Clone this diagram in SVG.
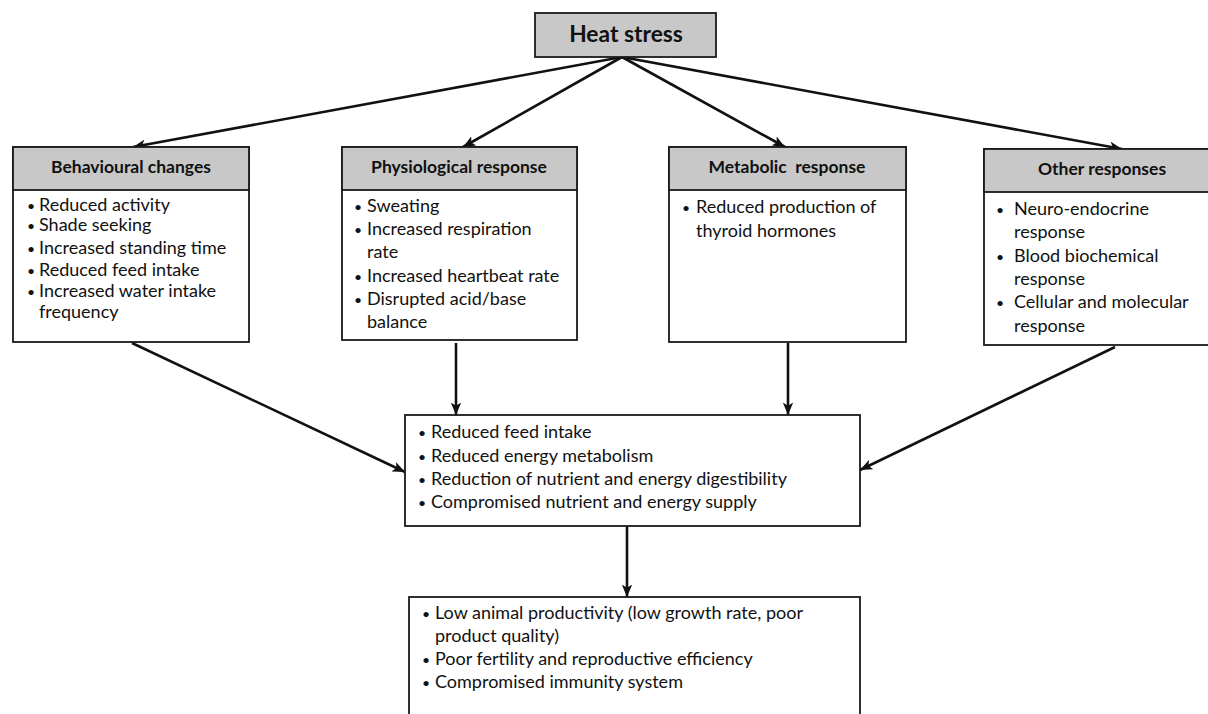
<svg xmlns="http://www.w3.org/2000/svg" width="1208" height="714" viewBox="0 0 1208 714">
<style>
.box{fill:#fff;stroke:#1a1a1a;stroke-width:1.8}
.hdr{fill:#c8c8c8;stroke:#1a1a1a;stroke-width:1.8}
.ht{font-family:Lato,"Liberation Sans",sans-serif;font-weight:bold;font-size:17.5px;fill:#111;text-anchor:middle}
.t{font-family:Lato,"Liberation Sans",sans-serif;font-size:18px;fill:#111}
.b{font-size:14px}
.c{fill:none;stroke:#111;stroke-width:2.6}
</style>
<defs>
<marker id="ah" viewBox="0 0 12 10" refX="12" refY="5" markerWidth="4.8" markerHeight="4" orient="auto" markerUnits="strokeWidth">
<path d="M0,0 L12,5 L0,10 L3,5 Z" fill="#111"/>
</marker>
</defs>
<g id="connectors">
<line class="c" x1="622" y1="57" x2="133" y2="147" marker-end="url(#ah)"/>
<line class="c" x1="622" y1="57" x2="463" y2="147" marker-end="url(#ah)"/>
<line class="c" x1="622" y1="57" x2="785" y2="147" marker-end="url(#ah)"/>
<line class="c" x1="622" y1="57" x2="1122" y2="149" marker-end="url(#ah)"/>
<line class="c" x1="132" y1="343" x2="405" y2="472" marker-end="url(#ah)"/>
<line class="c" x1="456" y1="343" x2="456" y2="415" marker-end="url(#ah)"/>
<line class="c" x1="788" y1="343" x2="788" y2="415" marker-end="url(#ah)"/>
<line class="c" x1="1115" y1="347" x2="860" y2="470" marker-end="url(#ah)"/>
<line class="c" x1="627" y1="526" x2="627" y2="597" marker-end="url(#ah)"/>
</g>
<g id="heat-stress">
<rect class="hdr" x="535" y="13" width="181" height="44"/>
<text class="ht" x="626" y="42" style="font-size:22.8px">Heat stress</text>
</g>
<g id="behavioural">
<rect class="box" x="13" y="147" width="236" height="195"/>
<rect class="hdr" x="13" y="147" width="236" height="43"/>
<text class="ht" x="131" y="173">Behavioural changes</text>
<text class="t"><tspan class="b" x="27" y="211">•</tspan><tspan x="39" y="211">Reduced activity</tspan>
<tspan class="b" x="27" y="231">•</tspan><tspan x="39" y="231">Shade seeking</tspan>
<tspan class="b" x="27" y="254">•</tspan><tspan x="39" y="254">Increased standing time</tspan>
<tspan class="b" x="27" y="276">•</tspan><tspan x="39" y="276">Reduced feed intake</tspan>
<tspan class="b" x="27" y="297">•</tspan><tspan x="39" y="297">Increased water intake</tspan>
<tspan x="39" y="318">frequency</tspan></text>
</g>
<g id="physiological">
<rect class="box" x="342" y="147" width="235" height="193"/>
<rect class="hdr" x="342" y="147" width="235" height="43"/>
<text class="ht" x="459" y="173">Physiological response</text>
<text class="t"><tspan class="b" x="354" y="212">•</tspan><tspan x="367" y="212">Sweating</tspan>
<tspan class="b" x="354" y="235">•</tspan><tspan x="367" y="235">Increased respiration</tspan>
<tspan x="367" y="258">rate</tspan>
<tspan class="b" x="354" y="282">•</tspan><tspan x="367" y="282">Increased heartbeat rate</tspan>
<tspan class="b" x="354" y="305">•</tspan><tspan x="367" y="305">Disrupted acid/base</tspan>
<tspan x="367" y="328">balance</tspan></text>
</g>
<g id="metabolic">
<rect class="box" x="669" y="147" width="237" height="195"/>
<rect class="hdr" x="669" y="147" width="237" height="43"/>
<text class="ht" x="787" y="173" xml:space="preserve">Metabolic  response</text>
<text class="t"><tspan class="b" x="682" y="213">•</tspan><tspan x="696" y="213">Reduced production of</tspan>
<tspan x="696" y="237">thyroid hormones</tspan></text>
</g>
<g id="other">
<rect class="box" x="984" y="149" width="232" height="196"/>
<rect class="hdr" x="984" y="149" width="232" height="43"/>
<text class="ht" x="1102" y="175">Other responses</text>
<text class="t"><tspan class="b" x="996" y="215">•</tspan><tspan x="1014" y="215">Neuro-endocrine</tspan>
<tspan x="1014" y="238">response</tspan>
<tspan class="b" x="996" y="262">•</tspan><tspan x="1014" y="262">Blood biochemical</tspan>
<tspan x="1014" y="285">response</tspan>
<tspan class="b" x="996" y="308">•</tspan><tspan x="1014" y="308">Cellular and molecular</tspan>
<tspan x="1014" y="332">response</tspan></text>
</g>
<g id="middle">
<rect class="box" x="405" y="415" width="455" height="111"/>
<text class="t"><tspan class="b" x="418" y="438">•</tspan><tspan x="431" y="438">Reduced feed intake</tspan>
<tspan class="b" x="418" y="462">•</tspan><tspan x="431" y="462">Reduced energy metabolism</tspan>
<tspan class="b" x="418" y="485">•</tspan><tspan x="431" y="485">Reduction of nutrient and energy digestibility</tspan>
<tspan class="b" x="418" y="508">•</tspan><tspan x="431" y="508">Compromised nutrient and energy supply</tspan></text>
</g>
<g id="outcome">
<rect class="box" x="409" y="597" width="451" height="130"/>
<text class="t"><tspan class="b" x="422" y="619">•</tspan><tspan x="435" y="619">Low animal productivity (low growth rate, poor</tspan>
<tspan x="435" y="642">product quality)</tspan>
<tspan class="b" x="422" y="665">•</tspan><tspan x="435" y="665">Poor fertility and reproductive efficiency</tspan>
<tspan class="b" x="422" y="688">•</tspan><tspan x="435" y="688">Compromised immunity system</tspan></text>
</g>
</svg>
